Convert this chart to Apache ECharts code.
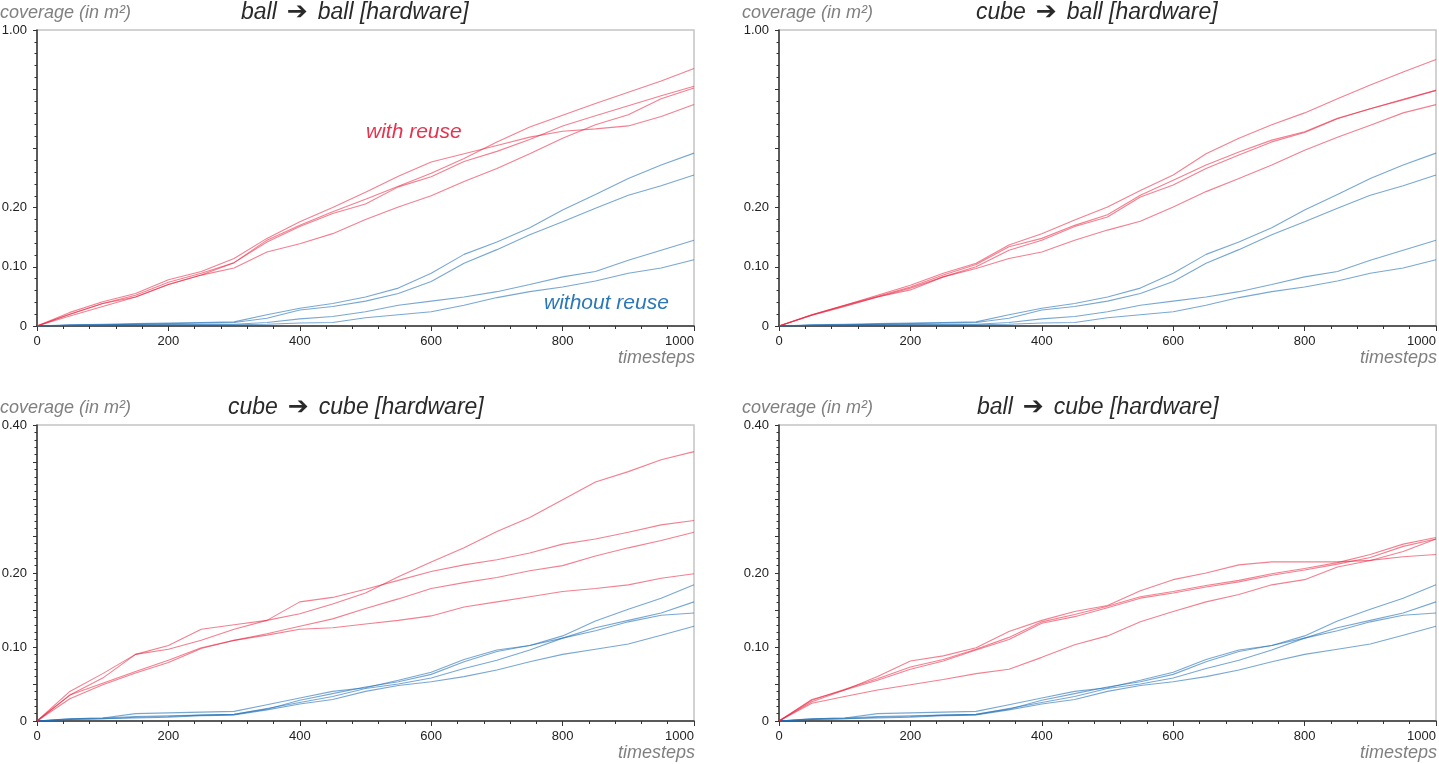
<!DOCTYPE html>
<html>
<head>
<meta charset="utf-8">
<script src="https://cdn.jsdelivr.net/npm/echarts@6/dist/echarts.min.js"></script>
<style>
html,body{margin:0;padding:0;background:#fff;overflow:hidden;}
#chart{width:1439px;height:764px;}
</style>
</head>
<body>
<div id="chart"></div>
<script>
// ---------- data ----------
const timesteps = [0,50,100,150,200,250,300,350,400,450,500,550,600,650,700,750,800,850,900,950,1000];

// y tick labels
const yTicksTop = [0, 0.1, 0.2, 0.5];
const yLabelsTop = ['0', '0.10', '0.20', '1.00'];
const yTicksBottom = [0, 0.1, 0.2, 0.4];
const yLabelsBottom = ['0', '0.10', '0.20', '0.40'];

// without reuse, ball target (top panels)
const noReuseBall1 = [0,0.002,0.003,0.004,0.005,0.006,0.007,0.019,0.030,0.038,0.049,0.064,0.089,0.121,0.142,0.166,0.196,0.222,0.249,0.272,0.292];
const noReuseBall2 = [0,0.001,0.002,0.003,0.004,0.005,0.006,0.013,0.027,0.033,0.042,0.055,0.075,0.106,0.129,0.154,0.176,0.199,0.221,0.237,0.255];
const noReuseBall3 = [0,0.001,0.002,0.003,0.003,0.003,0.003,0.006,0.012,0.016,0.024,0.035,0.042,0.049,0.058,0.070,0.083,0.092,0.111,0.128,0.145];
const noReuseBall4 = [0,0.001,0.001,0.002,0.002,0.002,0.002,0.003,0.005,0.006,0.014,0.019,0.024,0.035,0.048,0.058,0.066,0.076,0.089,0.098,0.112];

// without reuse, cube target (bottom panels)
const noReuseCube1 = [0,0.003,0.004,0.010,0.011,0.012,0.013,0.022,0.031,0.040,0.045,0.055,0.066,0.083,0.096,0.102,0.115,0.135,0.151,0.166,0.184];
const noReuseCube2 = [0,0.002,0.003,0.005,0.006,0.008,0.009,0.017,0.025,0.033,0.044,0.050,0.058,0.071,0.082,0.096,0.112,0.126,0.136,0.146,0.161];
const noReuseCube3 = [0,0.003,0.004,0.006,0.007,0.008,0.009,0.016,0.028,0.037,0.046,0.053,0.063,0.080,0.094,0.102,0.112,0.122,0.134,0.143,0.146];
const noReuseCube4 = [0,0.002,0.003,0.004,0.005,0.007,0.008,0.015,0.023,0.029,0.040,0.048,0.053,0.060,0.069,0.080,0.090,0.097,0.104,0.116,0.128];

// with reuse: ball -> ball
const ballBall1 = [0,0.020,0.038,0.052,0.074,0.089,0.107,0.145,0.170,0.193,0.214,0.236,0.258,0.283,0.311,0.336,0.356,0.376,0.395,0.414,0.435];
const ballBall2 = [0,0.023,0.041,0.055,0.078,0.092,0.114,0.148,0.176,0.200,0.226,0.253,0.277,0.291,0.305,0.319,0.329,0.333,0.338,0.354,0.374];
const ballBall3 = [0,0.020,0.038,0.049,0.070,0.086,0.107,0.142,0.168,0.190,0.206,0.235,0.252,0.278,0.295,0.315,0.338,0.355,0.372,0.389,0.405];
const ballBall4 = [0,0.017,0.033,0.049,0.070,0.086,0.098,0.125,0.139,0.156,0.180,0.201,0.220,0.244,0.266,0.291,0.317,0.340,0.357,0.384,0.402];

// with reuse: cube -> ball
const cubeBall1 = [0,0.019,0.035,0.052,0.069,0.089,0.106,0.137,0.156,0.179,0.201,0.229,0.255,0.291,0.317,0.340,0.360,0.384,0.407,0.429,0.450];
const cubeBall2 = [0,0.019,0.035,0.050,0.066,0.086,0.104,0.134,0.148,0.170,0.188,0.221,0.246,0.272,0.294,0.314,0.328,0.351,0.367,0.383,0.398];
const cubeBall3 = [0,0.018,0.034,0.049,0.064,0.083,0.100,0.128,0.145,0.168,0.184,0.218,0.238,0.266,0.289,0.311,0.327,0.350,0.367,0.382,0.398];
const cubeBall4 = [0,0.018,0.033,0.049,0.061,0.083,0.097,0.114,0.125,0.145,0.162,0.177,0.201,0.227,0.249,0.272,0.297,0.319,0.339,0.360,0.374];

// with reuse: cube -> cube
const cubeCube1 = [0,0.040,0.064,0.090,0.102,0.124,0.130,0.136,0.145,0.158,0.173,0.195,0.215,0.234,0.256,0.275,0.299,0.323,0.337,0.353,0.364];
const cubeCube2 = [0,0.035,0.058,0.090,0.097,0.109,0.124,0.136,0.161,0.167,0.178,0.190,0.202,0.211,0.218,0.227,0.239,0.246,0.255,0.265,0.271];
const cubeCube3 = [0,0.035,0.051,0.067,0.082,0.099,0.109,0.118,0.128,0.138,0.152,0.165,0.179,0.187,0.194,0.203,0.210,0.223,0.234,0.244,0.255];
const cubeCube4 = [0,0.030,0.049,0.065,0.079,0.098,0.109,0.116,0.124,0.126,0.131,0.136,0.142,0.154,0.161,0.168,0.175,0.179,0.184,0.193,0.199];

// with reuse: ball -> cube
const ballCube1 = [0,0.029,0.042,0.060,0.081,0.088,0.099,0.121,0.136,0.148,0.156,0.176,0.191,0.200,0.211,0.215,0.215,0.215,0.217,0.222,0.225];
const ballCube2 = [0,0.026,0.042,0.055,0.070,0.081,0.096,0.110,0.132,0.141,0.153,0.166,0.173,0.181,0.188,0.197,0.204,0.212,0.221,0.236,0.246];
const ballCube3 = [0,0.028,0.043,0.057,0.073,0.083,0.097,0.113,0.134,0.144,0.155,0.168,0.175,0.183,0.190,0.199,0.206,0.214,0.225,0.239,0.248];
const ballCube4 = [0,0.024,0.033,0.042,0.049,0.056,0.064,0.070,0.086,0.103,0.115,0.134,0.148,0.161,0.171,0.184,0.191,0.208,0.217,0.229,0.246];

const panelTitles = [['ball','ball [hardware]'],['cube','ball [hardware]'],['cube','cube [hardware]'],['ball','cube [hardware]']];

// ---------- layout ----------
const FONT = '"Liberation Sans", Arial, Helvetica, sans-serif';
const RED = 'rgba(232,36,64,0.58)';
const BLUE = 'rgba(30,110,180,0.6)';

const panels = [
  {left:37,  top:30,  red:[ballBall1,ballBall2,ballBall3,ballBall4], blue:[noReuseBall1,noReuseBall2,noReuseBall3,noReuseBall4], max:0.5, interval:0.1, ticks:yTicksTop, labels:yLabelsTop, titleLeft:241},
  {left:779, top:30,  red:[cubeBall1,cubeBall2,cubeBall3,cubeBall4], blue:[noReuseBall1,noReuseBall2,noReuseBall3,noReuseBall4], max:0.5, interval:0.1, ticks:yTicksTop, labels:yLabelsTop, titleLeft:976},
  {left:37,  top:425, red:[cubeCube1,cubeCube2,cubeCube3,cubeCube4], blue:[noReuseCube1,noReuseCube2,noReuseCube3,noReuseCube4], max:0.4, interval:0.05, ticks:yTicksBottom, labels:yLabelsBottom, titleLeft:228},
  {left:779, top:425, red:[ballCube1,ballCube2,ballCube3,ballCube4], blue:[noReuseCube1,noReuseCube2,noReuseCube3,noReuseCube4], max:0.4, interval:0.05, ticks:yTicksBottom, labels:yLabelsBottom, titleLeft:977}
];

const grids = [], xAxes = [], yAxes = [], series = [], titles = [], graphics = [];

panels.forEach((p, i) => {
  grids.push({left:p.left, top:p.top, width:657, height:296, show:true, borderColor:'#c4c4c4', borderWidth:1.5,
    backgroundColor:'transparent', containLabel:false, outerBoundsMode:'none'});
  xAxes.push({
    type:'value', gridIndex:i, min:0, max:1000, interval:200,
    axisLine:{show:true, onZero:false, lineStyle:{color:'#333', width:1.5}},
    axisTick:{show:true, length:5, lineStyle:{color:'#333', width:1}},
    minorTick:{show:true, splitNumber:5, length:3, lineStyle:{color:'#333', width:1}},
    splitLine:{show:false}, minorSplitLine:{show:false},
    axisLabel:{margin:9, fontSize:13, color:'#222', fontFamily:FONT, alignMaxLabel:'right',
      formatter: v => String(Math.round(v))}
  });
  yAxes.push({
    type:'value', gridIndex:i, min:0, max:p.max, interval:p.interval,
    axisLine:{show:true, lineStyle:{color:'#333', width:1.5}},
    axisTick:{show:true, length:4, lineStyle:{color:'#333', width:1}},
    minorTick:{show:true, splitNumber:5, length:2.5, lineStyle:{color:'#333', width:1}},
    splitLine:{show:false}, minorSplitLine:{show:false},
    axisLabel:{margin:10, fontSize:13, color:'#222', fontFamily:FONT,
      formatter: v => { const k = p.ticks.findIndex(t => Math.abs(t - v) < 1e-9); return k >= 0 ? p.labels[k] : ''; }}
  });
  const mk = (arr, color) => ({
    type:'line', xAxisIndex:i, yAxisIndex:i, silent:true, animation:false,
    symbol:'none', showSymbol:false,
    lineStyle:{color:color, width:1.1},
    data: timesteps.map((t, k) => [t, arr[k]])
  });
  p.blue.forEach(a => series.push(mk(a, BLUE)));
  p.red.forEach(a => series.push(mk(a, RED)));

  const ox = p.left - 37, oy = p.top - 30;
  titles.push({
    text:'coverage (in m²)', left: ox, top: 4 + oy, padding:0,
    textStyle:{fontSize:18, fontStyle:'italic', fontWeight:'normal', color:'#808080', fontFamily:FONT}
  });
  titles.push({
    text:'{w|' + panelTitles[i][0] + '}{a|➔}{w|' + panelTitles[i][1] + '}',
    left: p.titleLeft, top: 0 + oy, padding:0,
    textStyle:{fontWeight:'normal', rich:{
      w:{fontSize:23, fontStyle:'italic', fontWeight:'normal', color:'#2a2a2a', fontFamily:FONT},
      a:{fontSize:25, fontWeight:'normal', color:'#2a2a2a', fontFamily:'"DejaVu Sans", sans-serif', padding:[0,10,0,10]}
    }}
  });
  graphics.push({
    type:'text', x: p.left + 658, y: p.top + 328, silent:true,
    style:{text:'timesteps', align:'right', verticalAlign:'middle', fill:'#808080',
      font:'italic 18px ' + FONT}
  });
});

graphics.push({type:'text', x:366, y:132, silent:true,
  style:{text:'with reuse', align:'left', verticalAlign:'middle', fill:'#e8334f', font:'italic 21px ' + FONT}});
graphics.push({type:'text', x:544, y:303, silent:true,
  style:{text:'without reuse', align:'left', verticalAlign:'middle', fill:'#2a78b8', font:'italic 21px ' + FONT}});

const chart = echarts.init(document.getElementById('chart'), null, {renderer:'canvas'});
chart.setOption({
  animation:false,
  backgroundColor:'#fff',
  title: titles,
  grid: grids,
  xAxis: xAxes,
  yAxis: yAxes,
  series: series,
  graphic: graphics
});
</script>
</body>
</html>
